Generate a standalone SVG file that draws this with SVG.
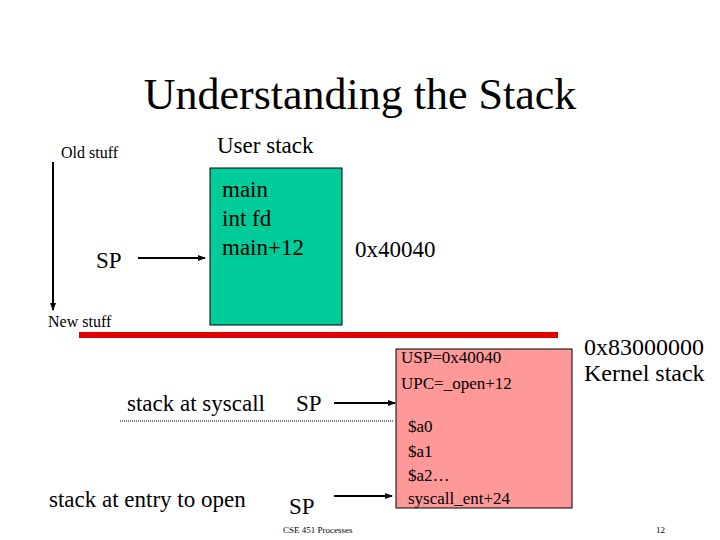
<svg xmlns="http://www.w3.org/2000/svg" width="720" height="540" viewBox="0 0 720 540">
<style>
text{font-family:"Liberation Serif","Times New Roman","DejaVu Serif",serif;fill:#000}
.a{stroke:#000;stroke-width:2;fill:none;marker-end:url(#ah)}
</style>
<defs><marker id="ah" markerWidth="8" markerHeight="8" refX="7" refY="4" orient="auto" markerUnits="userSpaceOnUse"><path d="M0,1 L8,4 L0,7 Z" fill="#000"/></marker></defs>
<rect width="720" height="540" fill="#fff"/>
<text x="360" y="109" font-size="44" text-anchor="middle" font-family="Liberation Serif, serif">Understanding the Stack</text>
<g id="labels" font-family="Liberation Serif, serif">
<text x="61" y="158" font-size="16">Old stuff</text>
<text x="217" y="153" font-size="23">User stack</text>
<text x="96" y="268" font-size="23">SP</text>
<text x="48" y="327" font-size="16">New stuff</text>
<text x="355" y="257" font-size="23">0x40040</text>
<text x="584" y="355" font-size="24">0x83000000</text>
<text x="584" y="381" font-size="24">Kernel stack</text>
<text x="127" y="411" font-size="23">stack at syscall</text>
<text x="296" y="411" font-size="23">SP</text>
<text x="49" y="507" font-size="23">stack at entry to open</text>
<text x="289" y="514" font-size="23">SP</text>
<text x="283" y="533" font-size="9">CSE 451 Processes</text>
<text x="656" y="533" font-size="9">12</text>
</g>
<g id="user-stack" font-family="Liberation Serif, serif">
<rect x="210" y="168" width="132" height="157" fill="#00cc99" stroke="#000" stroke-width="1"/>
<text x="222" y="197" font-size="23">main</text>
<text x="222" y="226" font-size="23">int fd</text>
<text x="222" y="255" font-size="23">main+12</text>
</g>
<g id="kernel-stack" font-family="Liberation Serif, serif">
<rect x="396" y="349" width="176" height="159" fill="#ff9999" stroke="#000" stroke-width="1"/>
<text x="401" y="363" font-size="17">USP=0x40040</text>
<text x="401" y="389" font-size="17">UPC=_open+12</text>
<text x="408" y="432" font-size="17">$a0</text>
<text x="408" y="457" font-size="17">$a1</text>
<text x="408" y="481" font-size="17">$a2…</text>
<text x="408" y="504" font-size="17">syscall_ent+24</text>
</g>
<g id="connectors">
<line x1="53" y1="162" x2="53" y2="310" class="a"/>
<line x1="138" y1="258" x2="205" y2="258" class="a"/>
<line x1="79" y1="335" x2="558" y2="335" stroke="#e00000" stroke-width="6"/>
<line x1="120" y1="421" x2="394" y2="421" stroke="#000" stroke-width="1" stroke-dasharray="1,1"/>
<line x1="334" y1="403" x2="395" y2="403" class="a"/>
<line x1="334" y1="496" x2="392" y2="496" class="a"/>
</g>
</svg>
